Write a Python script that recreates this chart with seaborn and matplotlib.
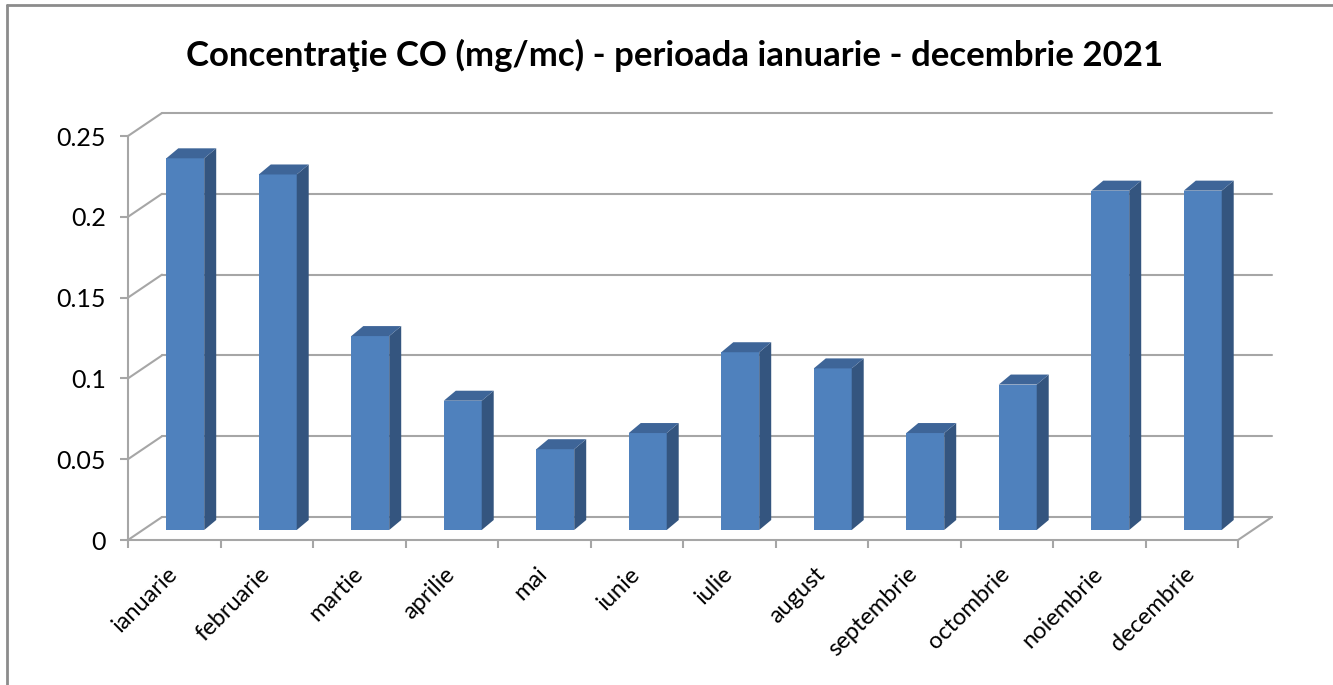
import numpy as np
import pandas as pd
import matplotlib
matplotlib.use("Agg")
import matplotlib.pyplot as plt
import matplotlib.transforms as mtransforms
from matplotlib.patches import Polygon
from matplotlib.lines import Line2D
import seaborn as sns

# date
luni = ["ianuarie", "februarie", "martie", "aprilie", "mai", "iunie",
        "iulie", "august", "septembrie", "octombrie", "noiembrie", "decembrie"]
co_mg_mc = [0.23, 0.22, 0.12, 0.08, 0.05, 0.06, 0.11, 0.10, 0.06, 0.09, 0.21, 0.21]
y_ticks = [0, 0.05, 0.1, 0.15, 0.2, 0.25]
y_tick_labels = ["0", "0.05", "0.1", "0.15", "0.2", "0.25"]
titlu = "Concentraţie CO (mg/mc) - perioada ianuarie - decembrie 2021"

sns.set_theme(style="white")
plt.rcParams["font.family"] = ["Lato", "DejaVu Sans"]

df = pd.DataFrame({"luna": luni, "co": co_mg_mc})

W, H = 1333, 685
fig = plt.figure(figsize=(W / 100, H / 100), dpi=100)
ax = fig.add_axes([128 / W, 145 / H, 1110 / W, 404 / H])

# adancime 3D in unitati de date
px_x = 1 / 92.5
px_y = 0.25 / 404
wall_dx, wall_dy = 34 * px_x, 23 * px_y
front_dx, front_dy = 11 * px_x, 10 * px_y
side_dx, side_dy = 12 * px_x, 10 * px_y

grid_col = "#A6A6A6"
front_col = "#4F81BD"
side_col = "#34557F"
top_col = "#3E6598"

sns.barplot(data=df, x="luna", y="co", color=front_col, saturation=1,
            width=0.41, linewidth=0, ax=ax, zorder=3)
ax.set_xlim(-0.5, 11.5)
ax.set_ylim(0, 0.25)

# peretele din spate si podeaua
for t in y_ticks:
    ax.plot([-0.5 + wall_dx, 11.5 + wall_dx], [t + wall_dy] * 2, color=grid_col,
            lw=1.5, clip_on=False, zorder=1)
    ax.plot([-0.5, -0.5 + wall_dx], [t, t + wall_dy], color=grid_col,
            lw=1.5, clip_on=False, zorder=1)
ax.plot([11.5, 11.5 + wall_dx], [0, wall_dy], color=grid_col, lw=1.5,
        clip_on=False, zorder=1)

# fete laterale si de sus pentru bare
shift = mtransforms.Affine2D().translate(front_dx, front_dy) + ax.transData
for p in list(ax.patches):
    p.set_transform(shift)
    p.set_clip_on(False)
    x0 = p.get_x() + front_dx
    x1 = x0 + p.get_width()
    y0 = front_dy
    y1 = p.get_height() + front_dy
    side = Polygon([(x1, y0), (x1 + side_dx, y0 + side_dy),
                    (x1 + side_dx, y1 + side_dy), (x1, y1)],
                   closed=True, facecolor=side_col, edgecolor="none",
                   zorder=3, clip_on=False)
    top = Polygon([(x0, y1), (x1, y1), (x1 + side_dx, y1 + side_dy),
                   (x0 + side_dx, y1 + side_dy)],
                  closed=True, facecolor=top_col, edgecolor="none",
                  zorder=3, clip_on=False)
    ax.add_patch(side)
    ax.add_patch(top)

for s in ["top", "right"]:
    ax.spines[s].set_visible(False)
for s in ["left", "bottom"]:
    ax.spines[s].set_color(grid_col)
    ax.spines[s].set_linewidth(1.5)

ax.set_yticks(y_ticks, y_tick_labels)
ax.set_xticks(range(len(luni)), luni, rotation=45, ha="right",
              va="center", rotation_mode="anchor")
ax.set_xticks(np.arange(-0.5, 12, 1), minor=True)
ax.tick_params(axis="y", which="major", direction="out", length=6, width=1.5,
               color=grid_col, labelsize=18, labelcolor="black", pad=10, left=True)
ax.tick_params(axis="x", which="major", length=0, labelsize=17,
               labelcolor="black", pad=22)
ax.tick_params(axis="x", which="minor", direction="out", length=6, width=1.5,
               color=grid_col, bottom=True)
ax.set_xlabel("")
ax.set_ylabel("")
ax.grid(False)

fig.text(675 / W, 1 - 55 / H, titlu, ha="center", va="center",
         fontsize=25, fontweight="bold", color="black")

# chenarul exterior
fig.add_artist(Line2D([7 / W, 7 / W], [0, 1 - 5 / H], transform=fig.transFigure,
                      color="#8C8C8C", lw=2))
fig.add_artist(Line2D([7 / W, 1], [1 - 5 / H, 1 - 5 / H], transform=fig.transFigure,
                      color="#8C8C8C", lw=2))

fig.savefig("out.png", dpi=100, facecolor="white")
